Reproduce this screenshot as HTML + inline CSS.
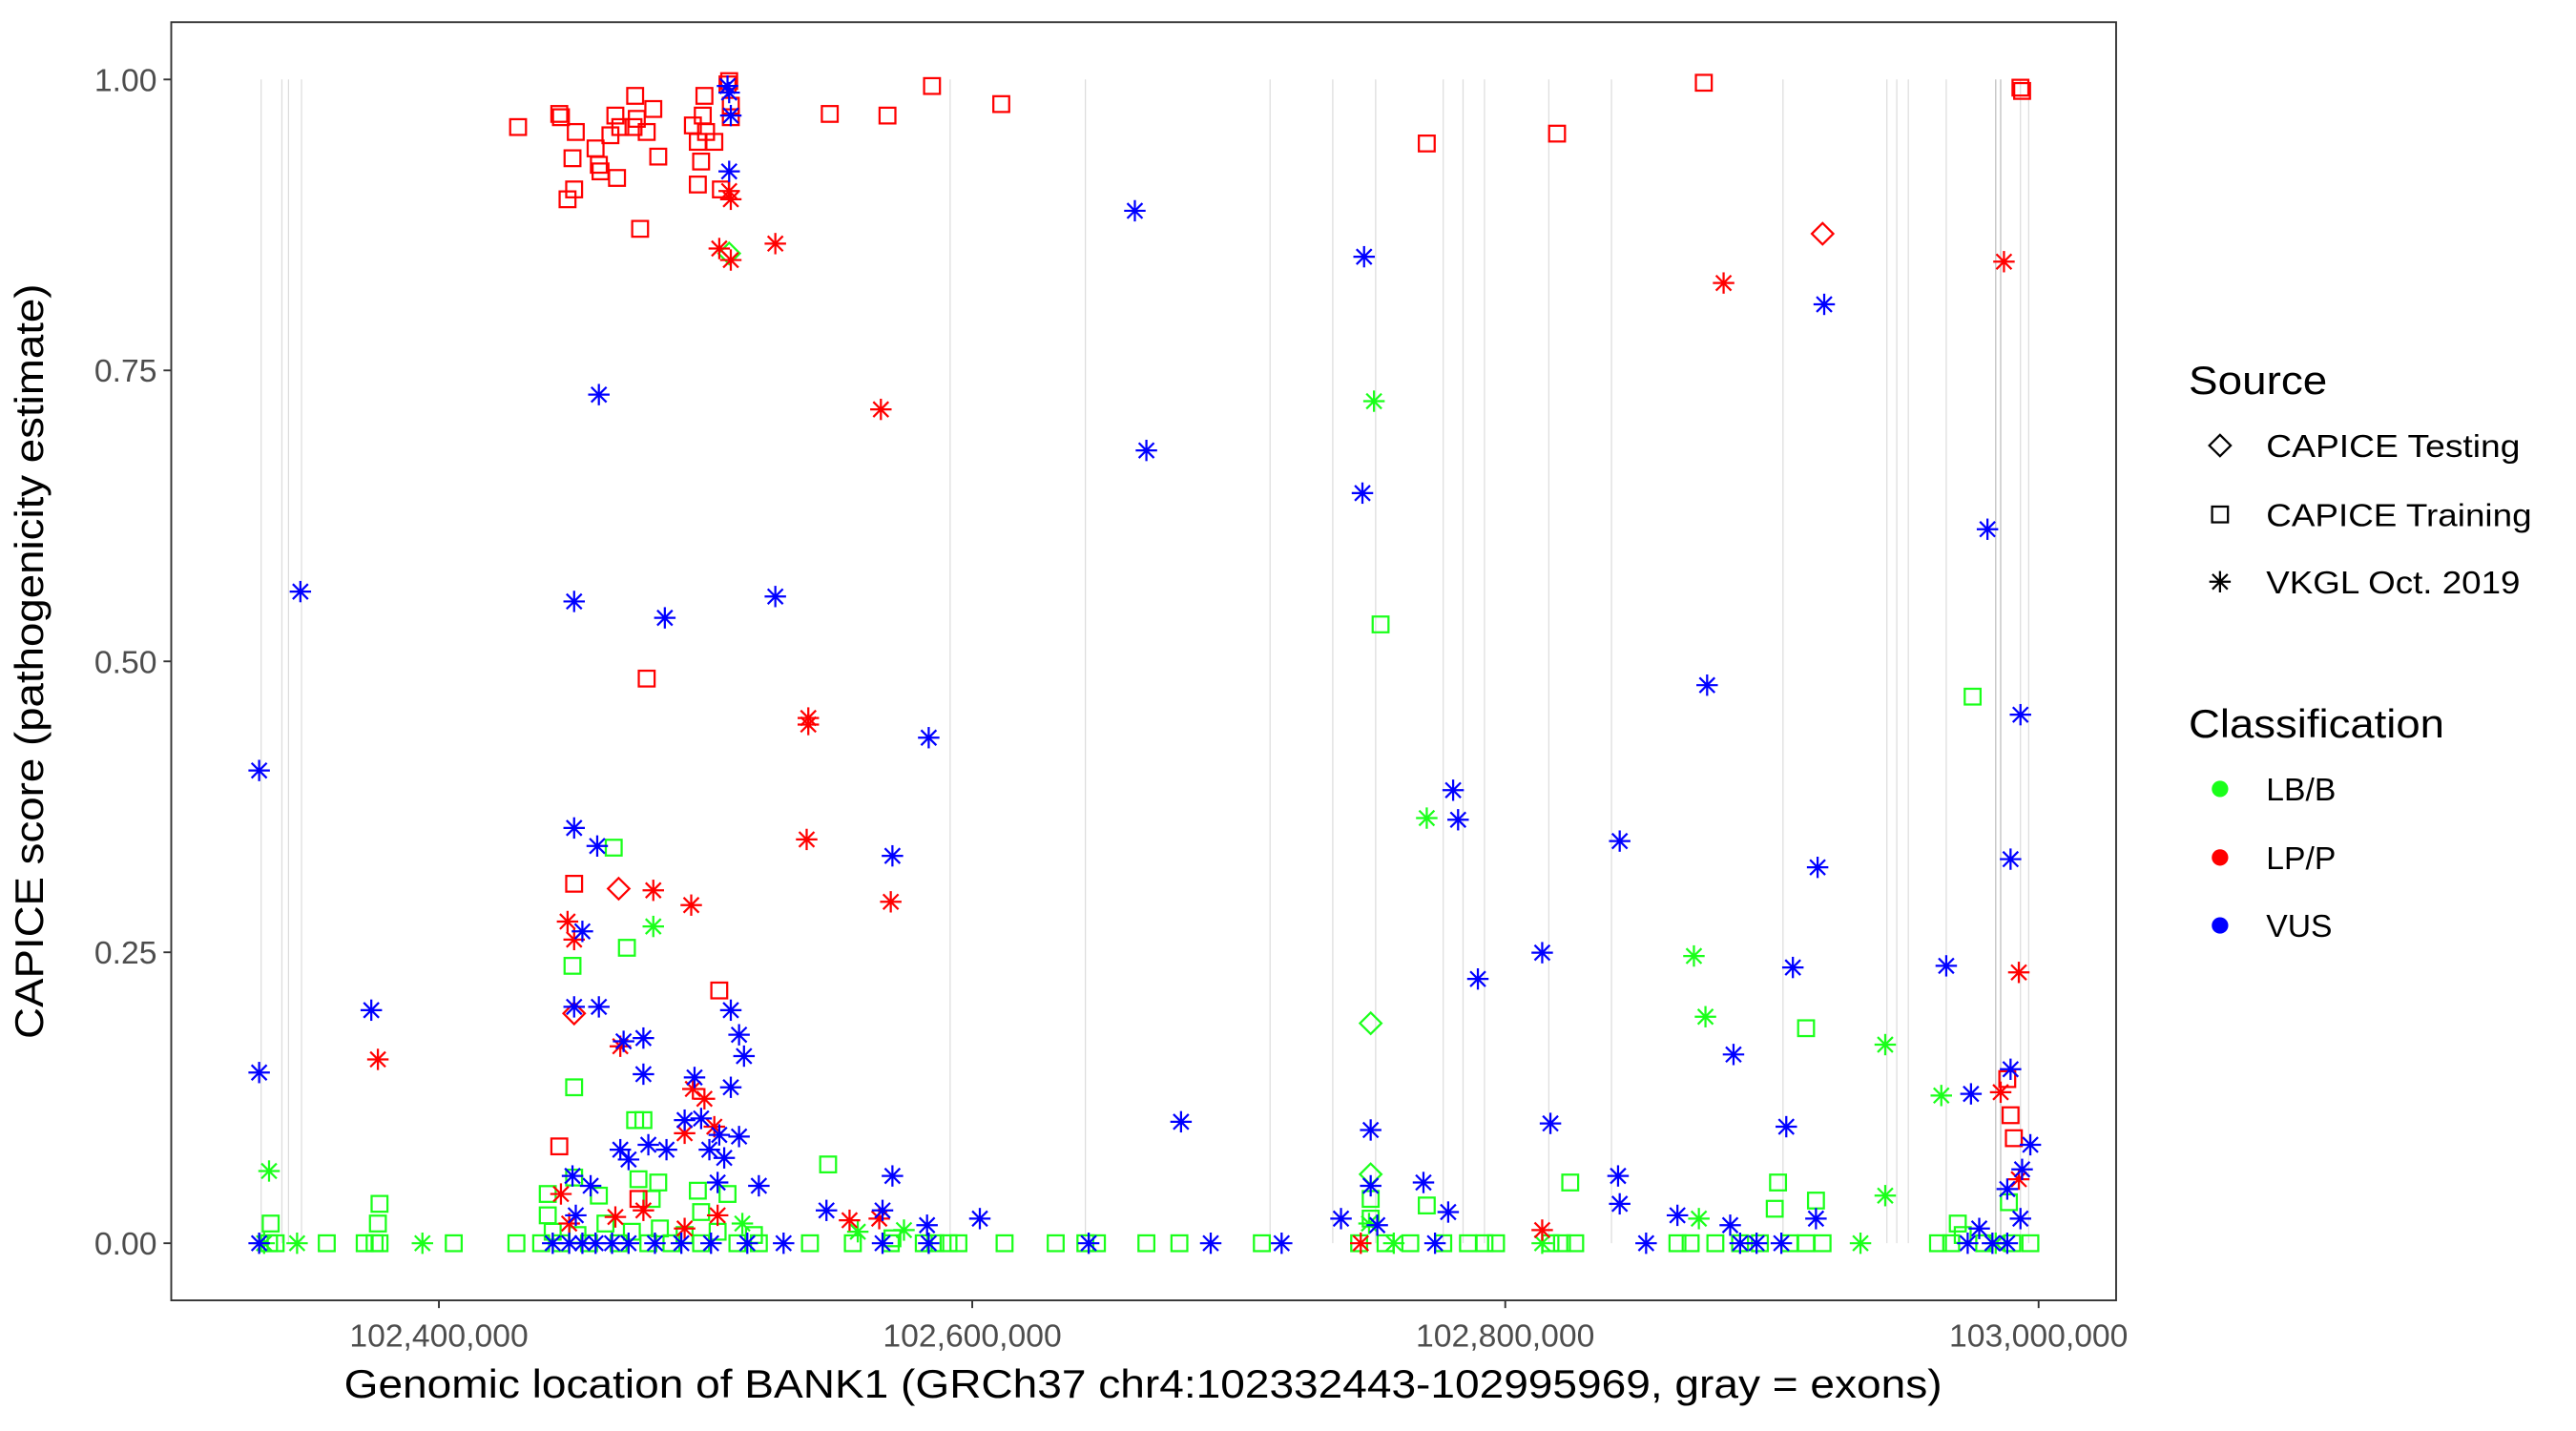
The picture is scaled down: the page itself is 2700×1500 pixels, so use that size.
<!DOCTYPE html>
<html><head><meta charset="utf-8"><style>html,body{margin:0;padding:0;background:#fff}svg{display:block}</style></head>
<body>
<svg width="2700" height="1500" viewBox="4.86 -0.41 1562 871.8" preserveAspectRatio="none" xmlns="http://www.w3.org/2000/svg" xmlns:xlink="http://www.w3.org/1999/xlink" font-family="Liberation Sans, sans-serif">
<defs>
<g id="sq"><rect x="-4.8" y="-4.8" width="9.6" height="9.6" fill="none" stroke-width="1.3"/></g>
<g id="as" stroke-width="1.3"><line x1="0" y1="-6.5" x2="0" y2="6.5"/><line x1="-6.5" y1="0" x2="6.5" y2="0"/><line x1="-4.6" y1="-4.6" x2="4.6" y2="4.6"/><line x1="-4.6" y1="4.6" x2="4.6" y2="-4.6"/></g>
<g id="di"><polygon points="0,-6.5 6.5,0 0,6.5 -6.5,0" fill="none" stroke-width="1.3"/></g>
</defs>
<rect x="-4" y="-1" width="1580" height="875" fill="#fff"/>
<g stroke="#dcdcdc" stroke-width="0.7">
<line x1="163.2" y1="48" x2="163.2" y2="757"/><line x1="175.8" y1="48" x2="175.8" y2="757"/><line x1="179.8" y1="48" x2="179.8" y2="757"/><line x1="187.7" y1="48" x2="187.7" y2="757"/>
<line x1="581" y1="48" x2="581" y2="757"/><line x1="663" y1="48" x2="663" y2="757"/><line x1="775" y1="48" x2="775" y2="757"/>
<line x1="813" y1="48" x2="813" y2="757"/><line x1="839" y1="48" x2="839" y2="757"/><line x1="880" y1="48" x2="880" y2="757"/><line x1="892" y1="48" x2="892" y2="757"/><line x1="905" y1="48" x2="905" y2="757"/><line x1="944" y1="48" x2="944" y2="757"/><line x1="982" y1="48" x2="982" y2="757"/><line x1="1086" y1="48" x2="1086" y2="757"/><line x1="1149" y1="48" x2="1149" y2="757"/><line x1="1155" y1="48" x2="1155" y2="757"/><line x1="1162" y1="48" x2="1162" y2="757"/><line x1="1185" y1="48" x2="1185" y2="757"/><line x1="1215" y1="48" x2="1215" y2="757" stroke="#bbb"/><line x1="1218" y1="48" x2="1218" y2="757" stroke="#bbb"/><line x1="1230" y1="48" x2="1230" y2="757"/><line x1="1235" y1="48" x2="1235" y2="757"/>
</g>
<g stroke="#1aff1a">
<use xlink:href="#sq" x="168" y="757"/><use xlink:href="#sq" x="172" y="757"/><use xlink:href="#sq" x="203" y="757"/><use xlink:href="#sq" x="226" y="757"/><use xlink:href="#sq" x="232" y="757"/><use xlink:href="#sq" x="235" y="757"/><use xlink:href="#sq" x="280" y="757"/><use xlink:href="#sq" x="318" y="757"/><use xlink:href="#sq" x="333" y="757"/><use xlink:href="#sq" x="340" y="750"/><use xlink:href="#sq" x="345" y="757"/><use xlink:href="#sq" x="355" y="752"/><use xlink:href="#sq" x="362" y="757"/><use xlink:href="#sq" x="372" y="745"/><use xlink:href="#sq" x="380" y="757"/><use xlink:href="#sq" x="388" y="750"/><use xlink:href="#sq" x="398" y="757"/><use xlink:href="#sq" x="405" y="748"/><use xlink:href="#sq" x="412" y="757"/><use xlink:href="#sq" x="420" y="752"/><use xlink:href="#sq" x="430" y="757"/><use xlink:href="#sq" x="440" y="750"/><use xlink:href="#sq" x="452" y="757"/><use xlink:href="#sq" x="462" y="752"/><use xlink:href="#sq" x="465" y="757"/><use xlink:href="#sq" x="496" y="757"/><use xlink:href="#sq" x="522" y="757"/><use xlink:href="#sq" x="545" y="757"/><use xlink:href="#sq" x="565" y="757"/><use xlink:href="#sq" x="572" y="757"/><use xlink:href="#sq" x="580" y="757"/><use xlink:href="#sq" x="586" y="757"/><use xlink:href="#sq" x="614" y="757"/><use xlink:href="#sq" x="645" y="757"/><use xlink:href="#sq" x="663" y="757"/><use xlink:href="#sq" x="670" y="757"/><use xlink:href="#sq" x="700" y="757"/><use xlink:href="#sq" x="720" y="757"/><use xlink:href="#sq" x="770" y="757"/><use xlink:href="#sq" x="829" y="757"/><use xlink:href="#sq" x="845" y="757"/><use xlink:href="#sq" x="860" y="757"/><use xlink:href="#sq" x="880" y="757"/><use xlink:href="#sq" x="895" y="757"/><use xlink:href="#sq" x="905" y="757"/><use xlink:href="#sq" x="912" y="757"/><use xlink:href="#sq" x="945" y="757"/><use xlink:href="#sq" x="952" y="757"/><use xlink:href="#sq" x="960" y="757"/><use xlink:href="#sq" x="1022" y="757"/><use xlink:href="#sq" x="1030" y="757"/><use xlink:href="#sq" x="1045" y="757"/><use xlink:href="#sq" x="1060" y="757"/><use xlink:href="#sq" x="1072" y="757"/><use xlink:href="#sq" x="1090" y="757"/><use xlink:href="#sq" x="1100" y="757"/><use xlink:href="#sq" x="1110" y="757"/><use xlink:href="#sq" x="1180" y="757"/><use xlink:href="#sq" x="1188" y="757"/><use xlink:href="#sq" x="1195" y="752"/><use xlink:href="#sq" x="1208" y="757"/><use xlink:href="#sq" x="1225" y="757"/><use xlink:href="#sq" x="1236" y="757"/>
<use xlink:href="#sq" x="169" y="745"/><use xlink:href="#sq" x="235" y="733"/><use xlink:href="#sq" x="234" y="745"/><use xlink:href="#sq" x="337" y="740"/><use xlink:href="#sq" x="337" y="727"/><use xlink:href="#sq" x="353" y="717"/><use xlink:href="#sq" x="353" y="662"/><use xlink:href="#sq" x="352" y="588"/><use xlink:href="#sq" x="377" y="516"/><use xlink:href="#sq" x="385" y="577"/><use xlink:href="#sq" x="390" y="682"/><use xlink:href="#sq" x="395" y="682"/><use xlink:href="#sq" x="392" y="718"/><use xlink:href="#sq" x="400" y="730"/><use xlink:href="#sq" x="368" y="728"/><use xlink:href="#sq" x="404" y="720"/><use xlink:href="#sq" x="430" y="738"/><use xlink:href="#sq" x="428" y="725"/><use xlink:href="#sq" x="446" y="727"/><use xlink:href="#sq" x="507" y="709"/><use xlink:href="#sq" x="546" y="754"/><use xlink:href="#sq" x="842" y="380"/><use xlink:href="#sq" x="836" y="730"/><use xlink:href="#sq" x="836" y="742"/><use xlink:href="#sq" x="870" y="734"/><use xlink:href="#sq" x="957" y="720"/><use xlink:href="#sq" x="1083" y="720"/><use xlink:href="#sq" x="1081" y="736"/><use xlink:href="#sq" x="1100" y="626"/><use xlink:href="#sq" x="1106" y="731"/><use xlink:href="#sq" x="1201" y="424"/><use xlink:href="#sq" x="1192" y="745"/><use xlink:href="#sq" x="1223" y="732"/>
<use xlink:href="#as" x="168" y="713"/><use xlink:href="#as" x="185" y="757"/><use xlink:href="#as" x="165" y="757"/><use xlink:href="#as" x="261" y="757"/><use xlink:href="#as" x="401" y="564"/><use xlink:href="#as" x="838" y="244"/><use xlink:href="#as" x="870" y="498"/><use xlink:href="#as" x="1032" y="582"/><use xlink:href="#as" x="1039" y="619"/><use xlink:href="#as" x="1148" y="636"/><use xlink:href="#as" x="1148" y="728"/><use xlink:href="#as" x="1182" y="667"/><use xlink:href="#as" x="1133" y="757"/><use xlink:href="#as" x="940" y="757"/><use xlink:href="#as" x="1035" y="742"/><use xlink:href="#as" x="835" y="745"/><use xlink:href="#as" x="525" y="750"/><use xlink:href="#as" x="553" y="749"/><use xlink:href="#as" x="455" y="745"/><use xlink:href="#as" x="850" y="757"/><use xlink:href="#as" x="1215" y="757"/>
<use xlink:href="#di" x="836" y="623"/><use xlink:href="#di" x="836" y="715"/><use xlink:href="#di" x="447" y="154"/>
</g>
<g stroke="#ff0000">
<use xlink:href="#sq" x="319" y="77"/><use xlink:href="#sq" x="344" y="69"/><use xlink:href="#sq" x="345" y="71"/><use xlink:href="#sq" x="354" y="80"/><use xlink:href="#sq" x="352" y="96"/><use xlink:href="#sq" x="366" y="90"/><use xlink:href="#sq" x="368" y="100"/><use xlink:href="#sq" x="375" y="82"/><use xlink:href="#sq" x="378" y="70"/><use xlink:href="#sq" x="381" y="77"/><use xlink:href="#sq" x="390" y="58"/><use xlink:href="#sq" x="389" y="77"/><use xlink:href="#sq" x="391" y="72"/><use xlink:href="#sq" x="397" y="80"/><use xlink:href="#sq" x="401" y="66"/><use xlink:href="#sq" x="404" y="95"/><use xlink:href="#sq" x="369" y="104"/><use xlink:href="#sq" x="379" y="108"/><use xlink:href="#sq" x="353" y="115"/><use xlink:href="#sq" x="349" y="121"/><use xlink:href="#sq" x="393" y="139"/><use xlink:href="#sq" x="425" y="76"/><use xlink:href="#sq" x="428" y="86"/><use xlink:href="#sq" x="432" y="58"/><use xlink:href="#sq" x="431" y="70"/><use xlink:href="#sq" x="433" y="80"/><use xlink:href="#sq" x="430" y="98"/><use xlink:href="#sq" x="428" y="112"/><use xlink:href="#sq" x="438" y="86"/><use xlink:href="#sq" x="442" y="115"/><use xlink:href="#sq" x="446" y="51"/><use xlink:href="#sq" x="447" y="49"/><use xlink:href="#sq" x="448" y="64"/><use xlink:href="#sq" x="448" y="71"/><use xlink:href="#sq" x="508" y="69"/><use xlink:href="#sq" x="543" y="70"/><use xlink:href="#sq" x="570" y="52"/><use xlink:href="#sq" x="612" y="63"/><use xlink:href="#sq" x="870" y="87"/><use xlink:href="#sq" x="949" y="81"/><use xlink:href="#sq" x="1038" y="50"/><use xlink:href="#sq" x="1230" y="53"/><use xlink:href="#sq" x="1231" y="55"/><use xlink:href="#sq" x="397" y="413"/><use xlink:href="#sq" x="353" y="538"/><use xlink:href="#sq" x="441" y="603"/><use xlink:href="#sq" x="344" y="698"/><use xlink:href="#sq" x="1224" y="679"/><use xlink:href="#sq" x="1226" y="693"/><use xlink:href="#sq" x="1222" y="657"/><use xlink:href="#sq" x="392" y="730"/>
<use xlink:href="#as" x="441" y="151"/><use xlink:href="#as" x="448" y="158"/><use xlink:href="#as" x="447" y="116"/><use xlink:href="#as" x="448" y="121"/><use xlink:href="#as" x="475" y="148"/><use xlink:href="#as" x="539" y="249"/><use xlink:href="#as" x="495" y="437"/><use xlink:href="#as" x="495" y="441"/><use xlink:href="#as" x="494" y="511"/><use xlink:href="#as" x="545" y="549"/><use xlink:href="#as" x="401" y="542"/><use xlink:href="#as" x="424" y="551"/><use xlink:href="#as" x="349" y="561"/><use xlink:href="#as" x="353" y="572"/><use xlink:href="#as" x="381" y="637"/><use xlink:href="#as" x="234" y="645"/><use xlink:href="#as" x="1050" y="172"/><use xlink:href="#as" x="1220" y="159"/><use xlink:href="#as" x="1229" y="592"/><use xlink:href="#as" x="1218" y="665"/><use xlink:href="#as" x="1229" y="718"/><use xlink:href="#as" x="940" y="749"/><use xlink:href="#as" x="425" y="663"/><use xlink:href="#as" x="432" y="669"/><use xlink:href="#as" x="438" y="686"/><use xlink:href="#as" x="420" y="690"/><use xlink:href="#as" x="520" y="743"/><use xlink:href="#as" x="538" y="742"/><use xlink:href="#as" x="345" y="727"/><use xlink:href="#as" x="350" y="745"/><use xlink:href="#as" x="378" y="741"/><use xlink:href="#as" x="395" y="737"/><use xlink:href="#as" x="440" y="740"/><use xlink:href="#as" x="420" y="748"/><use xlink:href="#as" x="830" y="757"/>
<use xlink:href="#di" x="1110" y="142"/><use xlink:href="#di" x="380" y="541"/><use xlink:href="#di" x="353" y="617"/>
</g>
<g stroke="#0000ff">
<use xlink:href="#as" x="162" y="469"/><use xlink:href="#as" x="162" y="653"/><use xlink:href="#as" x="187" y="360"/><use xlink:href="#as" x="230" y="615"/><use xlink:href="#as" x="368" y="240"/><use xlink:href="#as" x="353" y="366"/><use xlink:href="#as" x="408" y="376"/><use xlink:href="#as" x="475" y="363"/><use xlink:href="#as" x="353" y="504"/><use xlink:href="#as" x="367" y="515"/><use xlink:href="#as" x="358" y="567"/><use xlink:href="#as" x="353" y="613"/><use xlink:href="#as" x="368" y="613"/><use xlink:href="#as" x="383" y="634"/><use xlink:href="#as" x="395" y="632"/><use xlink:href="#as" x="395" y="654"/><use xlink:href="#as" x="426" y="656"/><use xlink:href="#as" x="430" y="681"/><use xlink:href="#as" x="453" y="692"/><use xlink:href="#as" x="448" y="662"/><use xlink:href="#as" x="453" y="630"/><use xlink:href="#as" x="448" y="615"/><use xlink:href="#as" x="456" y="643"/><use xlink:href="#as" x="441" y="691"/><use xlink:href="#as" x="435" y="700"/><use xlink:href="#as" x="444" y="705"/><use xlink:href="#as" x="465" y="722"/><use xlink:href="#as" x="440" y="720"/><use xlink:href="#as" x="420" y="682"/><use xlink:href="#as" x="409" y="700"/><use xlink:href="#as" x="398" y="697"/><use xlink:href="#as" x="386" y="706"/><use xlink:href="#as" x="381" y="700"/><use xlink:href="#as" x="363" y="722"/><use xlink:href="#as" x="352" y="716"/><use xlink:href="#as" x="354" y="740"/><use xlink:href="#as" x="446" y="52"/><use xlink:href="#as" x="447" y="56"/><use xlink:href="#as" x="448" y="70"/><use xlink:href="#as" x="447" y="104"/><use xlink:href="#as" x="568" y="449"/><use xlink:href="#as" x="546" y="521"/><use xlink:href="#as" x="546" y="716"/><use xlink:href="#as" x="599" y="742"/><use xlink:href="#as" x="540" y="737"/><use xlink:href="#as" x="506" y="737"/><use xlink:href="#as" x="567" y="746"/><use xlink:href="#as" x="693" y="128"/><use xlink:href="#as" x="700" y="274"/><use xlink:href="#as" x="721" y="683"/><use xlink:href="#as" x="832" y="156"/><use xlink:href="#as" x="831" y="300"/><use xlink:href="#as" x="836" y="688"/><use xlink:href="#as" x="836" y="722"/><use xlink:href="#as" x="840" y="746"/><use xlink:href="#as" x="868" y="720"/><use xlink:href="#as" x="886" y="481"/><use xlink:href="#as" x="889" y="499"/><use xlink:href="#as" x="883" y="738"/><use xlink:href="#as" x="901" y="596"/><use xlink:href="#as" x="940" y="580"/><use xlink:href="#as" x="945" y="684"/><use xlink:href="#as" x="987" y="512"/><use xlink:href="#as" x="986" y="716"/><use xlink:href="#as" x="987" y="733"/><use xlink:href="#as" x="1040" y="417"/><use xlink:href="#as" x="1056" y="642"/><use xlink:href="#as" x="1088" y="686"/><use xlink:href="#as" x="1092" y="589"/><use xlink:href="#as" x="1107" y="528"/><use xlink:href="#as" x="1111" y="185"/><use xlink:href="#as" x="1054" y="746"/><use xlink:href="#as" x="1022" y="740"/><use xlink:href="#as" x="1210" y="322"/><use xlink:href="#as" x="1185" y="588"/><use xlink:href="#as" x="1200" y="666"/><use xlink:href="#as" x="1224" y="523"/><use xlink:href="#as" x="1230" y="435"/><use xlink:href="#as" x="1231" y="712"/><use xlink:href="#as" x="1236" y="697"/><use xlink:href="#as" x="1224" y="651"/><use xlink:href="#as" x="1222" y="724"/><use xlink:href="#as" x="1230" y="742"/><use xlink:href="#as" x="1205" y="748"/><use xlink:href="#as" x="818" y="742"/><use xlink:href="#as" x="1106" y="742"/>
<use xlink:href="#as" x="162" y="757"/><use xlink:href="#as" x="340" y="757"/><use xlink:href="#as" x="350" y="757"/><use xlink:href="#as" x="358" y="757"/><use xlink:href="#as" x="366" y="757"/><use xlink:href="#as" x="376" y="757"/><use xlink:href="#as" x="386" y="757"/><use xlink:href="#as" x="402" y="757"/><use xlink:href="#as" x="418" y="757"/><use xlink:href="#as" x="436" y="757"/><use xlink:href="#as" x="458" y="757"/><use xlink:href="#as" x="480" y="757"/><use xlink:href="#as" x="540" y="757"/><use xlink:href="#as" x="568" y="757"/><use xlink:href="#as" x="665" y="757"/><use xlink:href="#as" x="739" y="757"/><use xlink:href="#as" x="782" y="757"/><use xlink:href="#as" x="875" y="757"/><use xlink:href="#as" x="1003" y="757"/><use xlink:href="#as" x="1060" y="757"/><use xlink:href="#as" x="1070" y="757"/><use xlink:href="#as" x="1085" y="757"/><use xlink:href="#as" x="1198" y="757"/><use xlink:href="#as" x="1213" y="757"/><use xlink:href="#as" x="1222" y="757"/>
</g>
<rect x="108.7" y="13.1" width="1179.3" height="778.7" fill="none" stroke="#333" stroke-width="1.1"/>
<g stroke="#333" stroke-width="1.1">
<line x1="104" y1="48" x2="108.7" y2="48"/><line x1="104" y1="225.25" x2="108.7" y2="225.25"/><line x1="104" y1="402.5" x2="108.7" y2="402.5"/><line x1="104" y1="579.75" x2="108.7" y2="579.75"/><line x1="104" y1="757" x2="108.7" y2="757"/>
<line x1="271" y1="791.8" x2="271" y2="796.5"/><line x1="594.4" y1="791.8" x2="594.4" y2="796.5"/><line x1="917.6" y1="791.8" x2="917.6" y2="796.5"/><line x1="1241" y1="791.8" x2="1241" y2="796.5"/>
</g>
<g fill="#4d4d4d" font-size="19.5" text-anchor="end">
<text x="100" y="55">1.00</text><text x="100" y="232.2">0.75</text><text x="100" y="409.5">0.50</text><text x="100" y="586.7">0.25</text><text x="100" y="764">0.00</text>
</g>
<g fill="#4d4d4d" font-size="19.5" text-anchor="middle">
<text x="271" y="820">102,400,000</text><text x="594.4" y="820">102,600,000</text><text x="917.6" y="820">102,800,000</text><text x="1241" y="820">103,000,000</text>
</g>
<text x="698" y="851" font-size="24.3" text-anchor="middle" textLength="969" lengthAdjust="spacingAndGlyphs">Genomic location of BANK1 (GRCh37 chr4:102332443-102995969, gray = exons)</text>
<text transform="translate(31,402.5) rotate(-90)" font-size="24.3" text-anchor="middle" textLength="460" lengthAdjust="spacingAndGlyphs">CAPICE score (pathogenicity estimate)</text>
<text x="1332" y="239.6" font-size="24.3" textLength="84" lengthAdjust="spacingAndGlyphs">Source</text>
<g stroke="#000">
<use xlink:href="#di" x="1351" y="271"/><use xlink:href="#sq" x="1351" y="313"/><use xlink:href="#as" x="1351" y="354"/>
</g>
<g font-size="19.5">
<text x="1379" y="278" textLength="154" lengthAdjust="spacingAndGlyphs">CAPICE Testing</text>
<text x="1379" y="320" textLength="161" lengthAdjust="spacingAndGlyphs">CAPICE Training</text>
<text x="1379" y="361" textLength="154" lengthAdjust="spacingAndGlyphs">VKGL Oct. 2019</text>
<text x="1379" y="487.2">LB/B</text><text x="1379" y="529">LP/P</text><text x="1379" y="570.4">VUS</text>
</g>
<text x="1332" y="449" font-size="24.3" textLength="155" lengthAdjust="spacingAndGlyphs">Classification</text>
<circle cx="1351" cy="480.2" r="5" fill="#1aff1a"/><circle cx="1351" cy="522" r="5" fill="#ff0000"/><circle cx="1351" cy="563.4" r="5" fill="#0000ff"/>
</svg>
</body></html>
